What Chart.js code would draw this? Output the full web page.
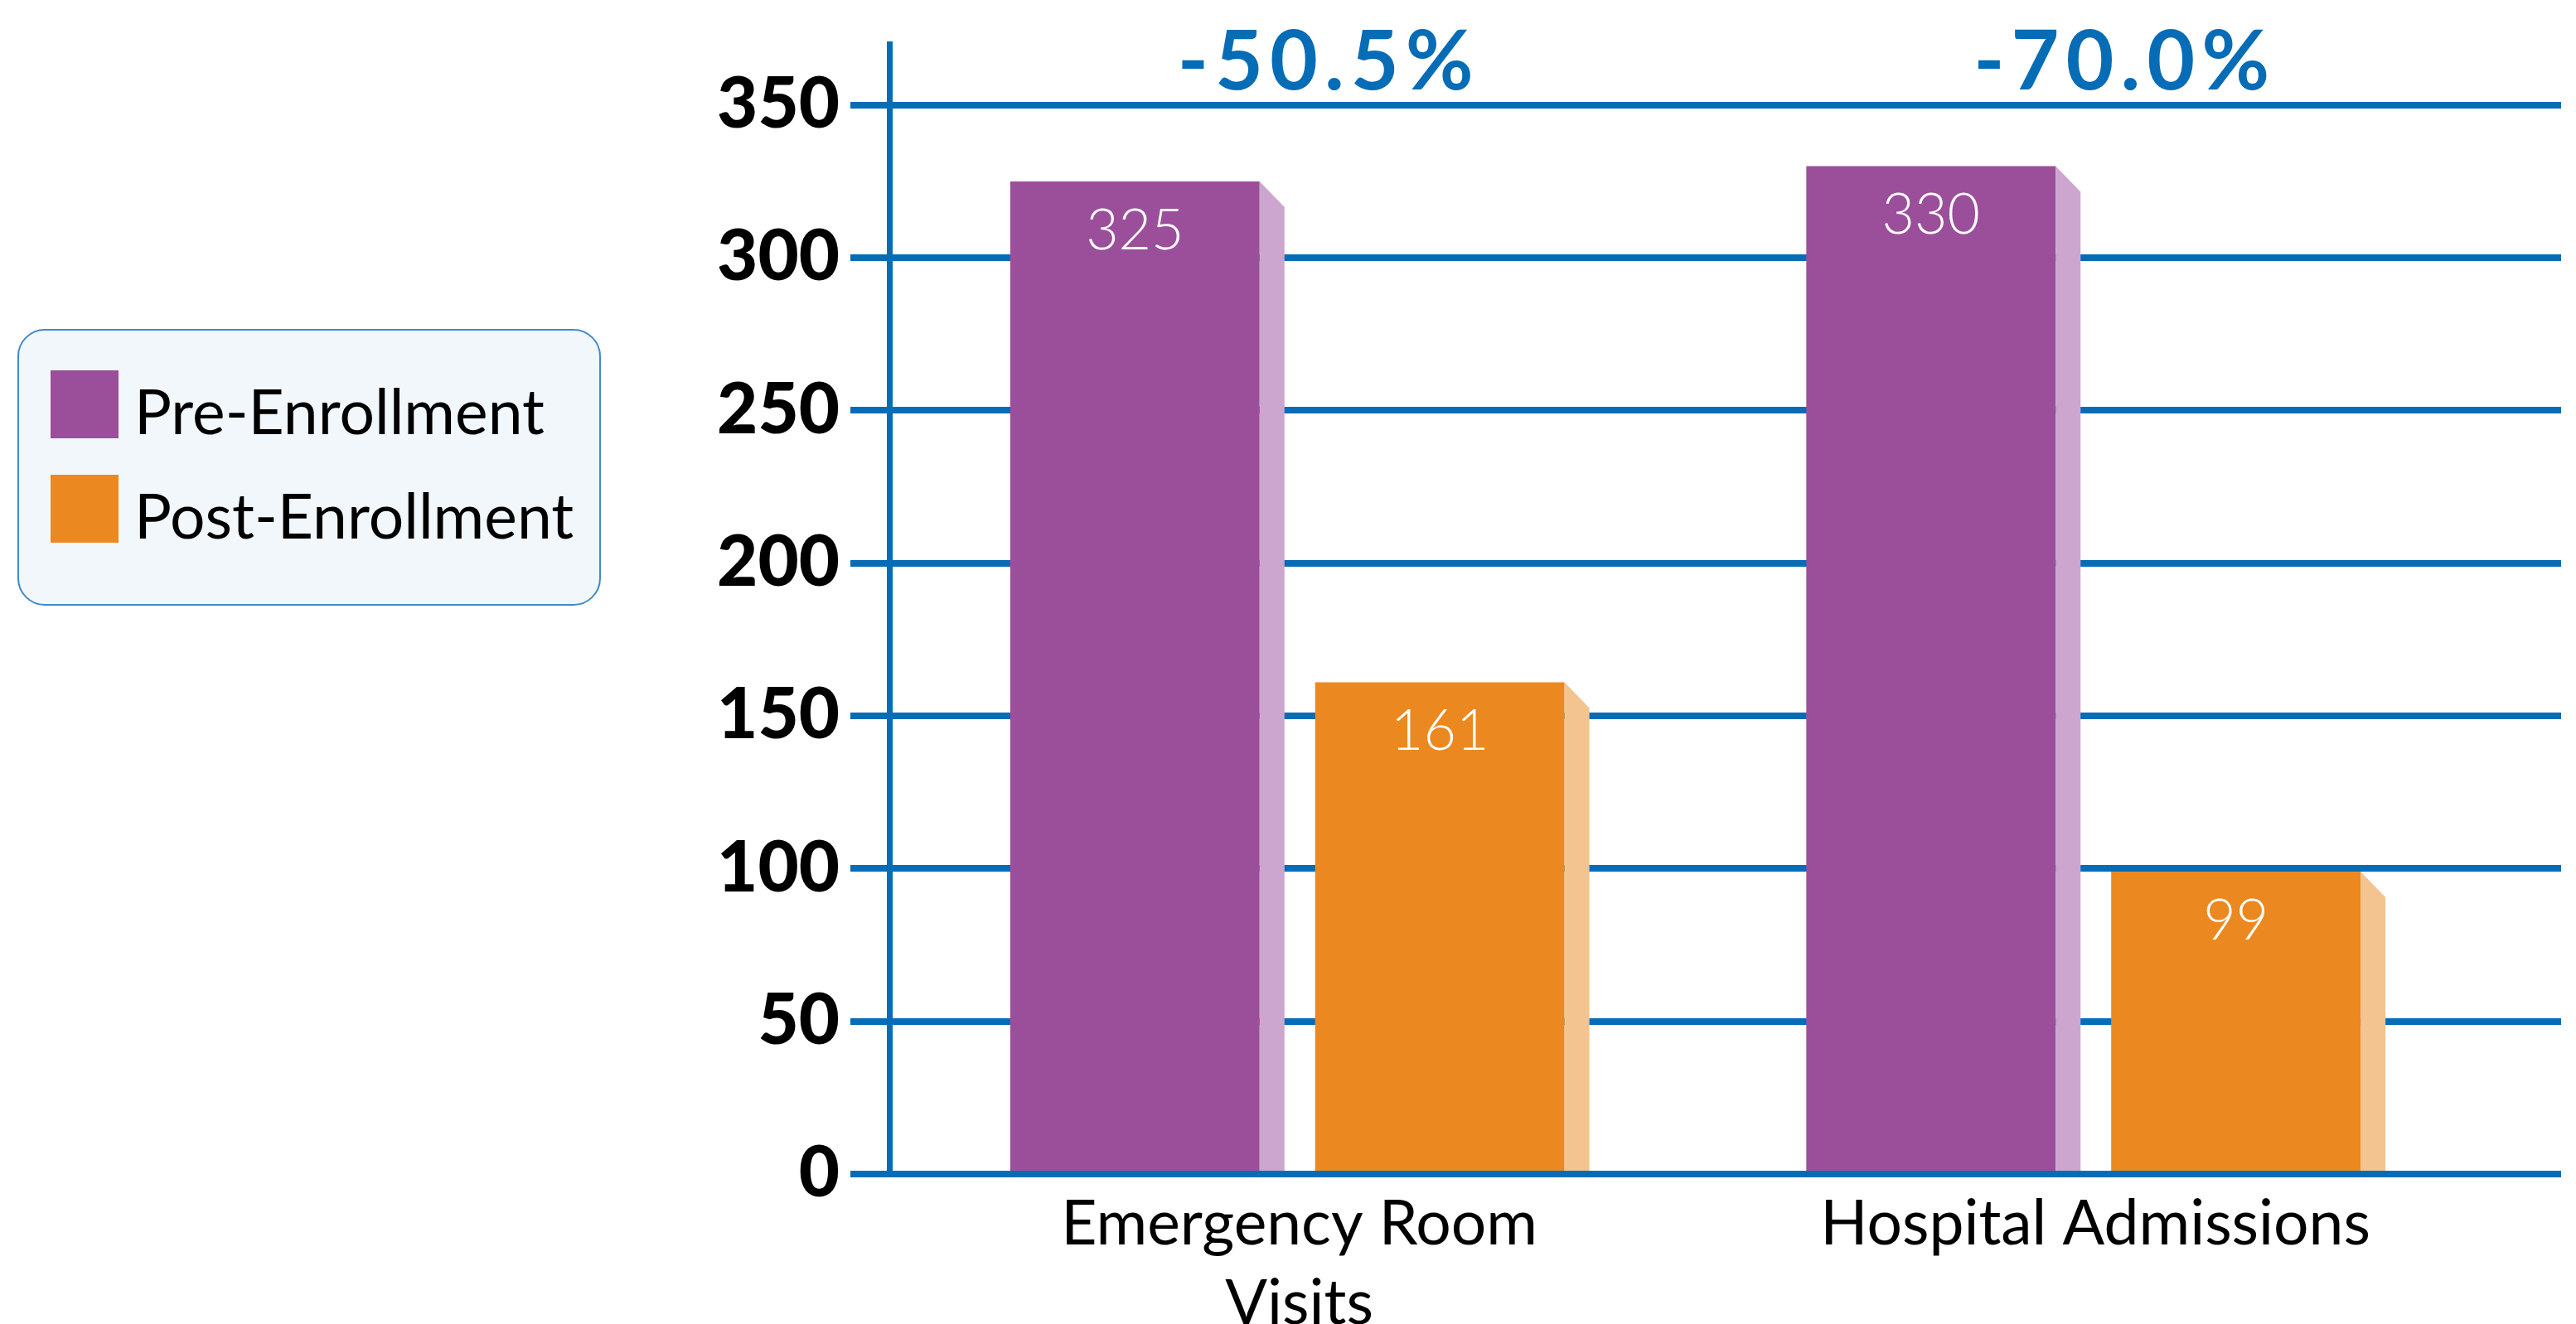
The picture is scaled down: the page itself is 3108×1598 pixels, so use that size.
<!DOCTYPE html>
<html>
<head>
<meta charset="utf-8">
<script src="https://cdn.jsdelivr.net/npm/chart.js@4.4.1/dist/chart.umd.min.js"></script>
<style>
html,body{margin:0;padding:0;background:#ffffff;}
#wrap{width:3108px;height:1598px;position:relative;}
</style>
</head>
<body>
<div id="wrap"><canvas id="c" width="3108" height="1598"></canvas></div>
<script>
// ---- data ----
const categories = [['Emergency Room', 'Visits'], ['Hospital Admissions']];
const seriesNames = ['Pre-Enrollment', 'Post-Enrollment'];
const preEnrollment = [325, 330];
const postEnrollment = [161, 99];
const changeLabels = ['-50.5%', '-70.0%'];
const yTickValues = [0, 50, 100, 150, 200, 250, 300, 350];
const yMax = 370;

// ---- styles ----
const BLUE = '#066CB6';
const frontColors = ['#9B4F9B', '#EC8820'];
const sideColors = ['#CCA6CF', '#F4C490'];
const SIDE_W = 30, SIDE_DROP = 31;
const LABEL_SHIFT = 0.015; // category labels centred on bar + side face

const sidePlugin = {
  id: 'sideFaces',
  afterDatasetsDraw(chart) {
    const ctx = chart.ctx;
    const ys = chart.scales.y, xs = chart.scales.x;
    const area = chart.chartArea;
    ctx.save();
    chart.data.datasets.forEach((ds, di) => {
      const meta = chart.getDatasetMeta(di);
      meta.data.forEach((bar, i) => {
        const p = bar.getProps(['x', 'y', 'base', 'width'], true);
        const r = p.x + p.width / 2;
        ctx.fillStyle = ds.sideColor;
        ctx.beginPath();
        ctx.moveTo(r, p.y);
        ctx.lineTo(r + SIDE_W, p.y + SIDE_DROP);
        ctx.lineTo(r + SIDE_W, p.base);
        ctx.lineTo(r, p.base);
        ctx.closePath();
        ctx.fill();
        ctx.fillStyle = '#ffffff';
        ctx.font = '300 68px Lato';
        ctx.textAlign = 'center';
        ctx.textBaseline = 'alphabetic';
        ctx.fillText(String(ds.data[i].y), p.x, p.y + 82);
      });
    });
    // zero line on top of bars
    const y0 = ys.getPixelForValue(0);
    ctx.strokeStyle = BLUE;
    ctx.lineWidth = 8;
    ctx.beginPath();
    ctx.moveTo(area.left - 47, y0);
    ctx.lineTo(area.right, y0);
    ctx.stroke();
    // change labels
    ctx.fillStyle = BLUE;
    ctx.font = '700 100px Lato';
    ctx.letterSpacing = '8px';
    ctx.textAlign = 'center';
    ctx.textBaseline = 'alphabetic';
    changeLabels.forEach((t, i) => {
      ctx.fillText(t, xs.getPixelForValue(i) + 50, area.top + 55);
    });
    ctx.restore();
  }
};

const legendPlugin = {
  id: 'boxLegend',
  afterDraw(chart) {
    const ctx = chart.ctx;
    ctx.save();
    ctx.fillStyle = '#F2F7FC';
    ctx.strokeStyle = '#3F8AC9';
    ctx.lineWidth = 2;
    ctx.beginPath();
    ctx.roundRect(22, 398, 702, 332, 32);
    ctx.fill();
    ctx.stroke();
    chart.data.datasets.forEach((ds, i) => {
      ctx.fillStyle = ds.backgroundColor;
      ctx.fillRect(61, 447 + i * 126, 82, 82);
      ctx.fillStyle = '#000000';
      ctx.font = '400 75px Lato';
      ctx.textAlign = 'left';
      ctx.textBaseline = 'alphabetic';
      ctx.fillText(ds.label, 162, 524 + i * 126);
    });
    ctx.restore();
  }
};

const toPoints = arr => arr.map((v, i) => ({ x: i, y: v }));

new Chart(document.getElementById('c'), {
  type: 'bar',
  data: {
    datasets: [
      { label: seriesNames[0], data: toPoints(preEnrollment), backgroundColor: frontColors[0], sideColor: sideColors[0] },
      { label: seriesNames[1], data: toPoints(postEnrollment), backgroundColor: frontColors[1], sideColor: sideColors[1] }
    ]
  },
  options: {
    responsive: false,
    animation: false,
    devicePixelRatio: 1,
    layout: { padding: { top: 53, right: 18, left: 0, bottom: 0 } },
    datasets: { bar: { categoryPercentage: 0.766, barPercentage: 0.818 } },
    plugins: { legend: { display: false }, tooltip: { enabled: false } },
    scales: {
      x: {
        type: 'linear',
        offset: false,
        min: -0.5,
        max: 1.6,
        grid: { display: false },
        border: { display: false },
        afterBuildTicks(s) { s.ticks = categories.map((c, i) => ({ value: i + LABEL_SHIFT })); },
        afterFit(s) { s.height = 181; },
        ticks: {
          callback: (v) => categories[Math.round(v)],
          font: { family: 'Lato', size: 75, weight: '400', lineHeight: 1.28 },
          color: '#000000',
          padding: 5,
          maxRotation: 0,
          autoSkip: false
        }
      },
      y: {
        min: 0,
        max: yMax,
        afterBuildTicks(s) { s.ticks = yTickValues.map(v => ({ value: v })); },
        afterFit(s) { s.width = 1073; },
        grid: { color: BLUE, lineWidth: 8, tickLength: 47, tickWidth: 8, tickColor: BLUE, drawTicks: true },
        border: { display: true, color: BLUE, width: 7 },
        ticks: { font: { family: 'Lato', size: 85, weight: '900', lineHeight: 0.9 }, color: '#000000', padding: 13 }
      }
    }
  },
  plugins: [sidePlugin, legendPlugin]
});
</script>
</body>
</html>
